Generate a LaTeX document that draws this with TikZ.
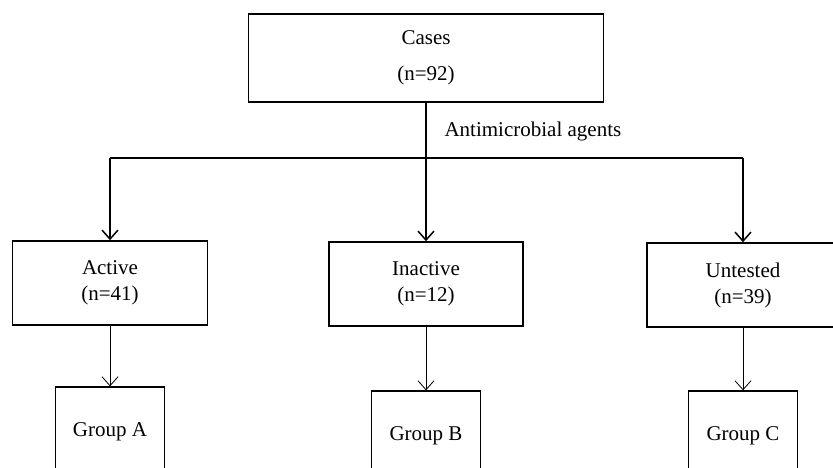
\documentclass[tikz,border=0pt]{standalone}
\usepackage{fontspec}
\setmainfont{Liberation Serif}
\usetikzlibrary{arrows.meta}
\begin{document}
\begin{tikzpicture}[x=1pt, y=-1pt, font=\fontsize{21}{26}\selectfont,
          box/.style={draw, line width=1.6pt, align=center, inner sep=0pt, minimum height=84pt},
          grp/.style={draw, line width=1.3pt, minimum width=109pt, minimum height=90pt, inner sep=0pt},
          bigarr/.style={line width=1.5pt, -{Straight Barb[length=9pt, width=16pt]}},
          smallarr/.style={line width=0.8pt, -{Straight Barb[length=9pt, width=16pt]}}]
        \useasboundingbox (0,0) rectangle (833,468);
        \clip (0,0) rectangle (833,468);
        \node[box, minimum width=355pt, minimum height=88pt] (cases) at (426,58) {Cases\\[10pt](n=92)};
        \coordinate (lft) at (110,158);
        \coordinate (rgt) at (743,158);
        \node[anchor=base west] (agents) at (441,137) {Antimicrobial agents};
        % second row
        \node[box, minimum width=195pt] (active) at (110,283) {Active\\(n=41)};
        \node[box, minimum width=194pt] (inactive) at (426,284) {Inactive\\(n=12)};
        \node[box, minimum width=192pt] (untested) at (743,285) {Untested\\(n=39)};
        % groups
        \node[grp] (grpa) at (110,432) {Group A};
        \node[grp] (grpb) at (426,436) {Group B};
        \node[grp] (grpc) at (743,436) {Group C};
        \draw[line width=1.5pt] (lft) -- (rgt);
        \draw[bigarr] (cases.south) -- (inactive.north);
        \draw[bigarr] (lft) -- (active.north);
        \draw[bigarr] (rgt) -- (untested.north);
        \draw[smallarr] (active.south) -- (grpa.north);
        \draw[smallarr] (inactive.south) -- (grpb.north);
        \draw[smallarr] (untested.south) -- (grpc.north);
      \end{tikzpicture}
\end{document}
